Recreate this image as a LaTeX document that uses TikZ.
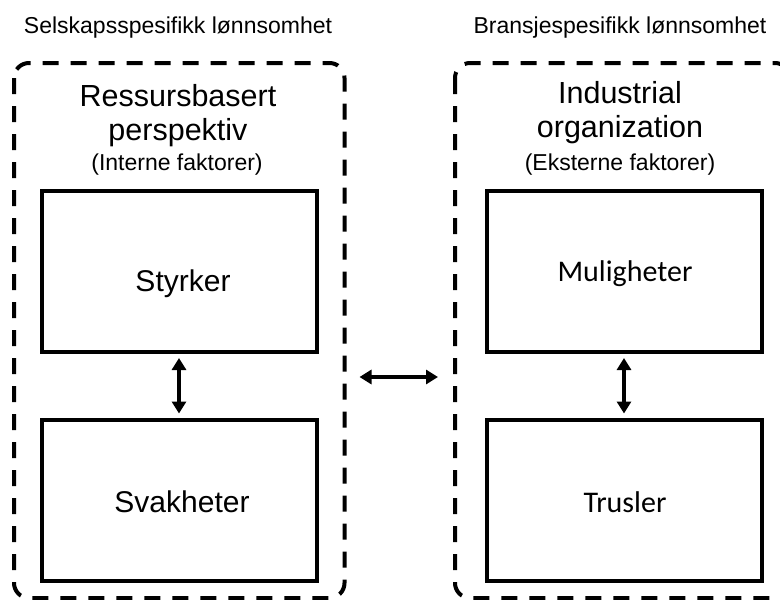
\documentclass[tikz,border=0pt]{standalone}
\usepackage{fontspec}
\setmainfont{Liberation Sans}
\newfontfamily\calibri{Carlito}
\usetikzlibrary{arrows.meta}
\begin{document}
\begin{tikzpicture}[x=1pt,y=-1pt,
  dashbox/.style={draw, line width=4pt, dash pattern=on 16pt off 12pt, rounded corners=15pt},
  innerbox/.style={draw, line width=4pt, minimum width=275pt, minimum height=161pt, inner sep=0pt},
  toplabel/.style={font=\fontsize{23}{26}\selectfont, inner sep=0pt, anchor=base},
  headlabel/.style={font=\fontsize{30.5}{34}\selectfont, inner sep=0pt, anchor=base},
  sublabel/.style={font=\fontsize{23}{26}\selectfont, inner sep=0pt, anchor=base},
  arialtxt/.style={font=\fontsize{30}{34}\selectfont, inner sep=0pt, anchor=base},
  calibtxt/.style={font=\calibri\fontsize{30}{34}\selectfont, inner sep=0pt, anchor=base},
  dbl/.style={line width=4pt, {Triangle[width=14pt,length=12pt]}-{Triangle[width=14pt,length=12pt]}}
]
\useasboundingbox (0,0) rectangle (780,600);
\clip (0,0) rectangle (780,600);
% dashed groups
\draw[dashbox] (14,63) rectangle (344.5,598);
\draw[dashbox] (455,63) rectangle (790,598);
\coordinate (lR) at (344.5,377);
\coordinate (rL) at (455,377);
% top labels
\node[toplabel] (t1) at (178,33) {Selskapsspesifikk lønnsomhet};
\node[toplabel] (t2) at (620,33) {Bransjespesifikk lønnsomhet};
% headings
\node[headlabel] (h1a) at (178,106) {Ressursbasert};
\node[headlabel] (h1b) at (178,140) {perspektiv};
\node[sublabel] (s1) at (177,170) {(Interne faktorer)};
\node[headlabel] (h2a) at (620,103) {Industrial};
\node[headlabel] (h2b) at (620,137) {organization};
\node[sublabel] (s2) at (620,170) {(Eksterne faktorer)};
% inner boxes
\node[innerbox] (st) at (179,271.5) {};
\node[innerbox] (sv) at (179,500) {};
\node[innerbox] (mu) at (624,271.5) {};
\node[innerbox] (tr) at (624,500) {};
\node[arialtxt] (stt) at (183,291) {Styrker};
\node[arialtxt] (svt) at (182,512) {Svakheter};
\node[calibtxt] (mut) at (625,281) {Muligheter};
\node[calibtxt] (trt) at (625,512) {Trusler};
% arrows
\draw[dbl, shorten <=4pt, shorten >=4pt] (st.south) -- (sv.north);
\draw[dbl, shorten <=4pt, shorten >=4pt] (mu.south) -- (tr.north);
\draw[dbl, shorten <=15pt, shorten >=17pt] (lR) -- (rL);
\end{tikzpicture}
\end{document}
